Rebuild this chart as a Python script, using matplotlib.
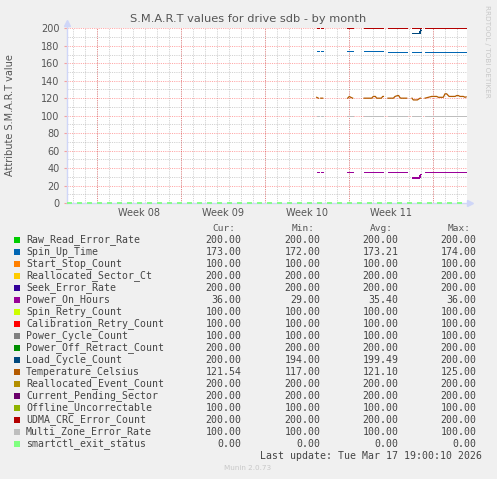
import numpy as np
import matplotlib.pyplot as plt
from matplotlib.patches import Rectangle

plt.rcParams['lines.scale_dashes'] = False

# ---- data (time in days from left edge of graph) ----
seg_start = [20.83, 21.17, 23.36, 24.78, 26.78, 28.78, 29.86]
seg_end = [21.03, 21.33, 23.83, 26.36, 28.33, 29.50, 33.28]

names = ['Raw_Read_Error_Rate', 'Spin_Up_Time', 'Start_Stop_Count', 'Reallocated_Sector_Ct',
         'Seek_Error_Rate', 'Power_On_Hours', 'Spin_Retry_Count', 'Calibration_Retry_Count',
         'Power_Cycle_Count', 'Power_Off_Retract_Count', 'Load_Cycle_Count', 'Temperature_Celsius',
         'Reallocated_Event_Count', 'Current_Pending_Sector', 'Offline_Uncorrectable',
         'UDMA_CRC_Error_Count', 'Multi_Zone_Error_Rate', 'smartctl_exit_status']
colors = ['#00CC00', '#0066B3', '#FF8000', '#FFCC00', '#330099', '#990099', '#CCFF00', '#FF0000',
          '#808080', '#008F00', '#00487D', '#B35A00', '#B38F00', '#6B006B', '#8FB300', '#B30000',
          '#BEBEBE', '#80FF80']

# per-segment levels of the flat series
raw_read = [200] * 7
spin_up = [174, 174, 174, 174, 173, 173, 173]
start_stop = [100] * 7
realloc_sector = [200] * 7
seek_error = [200] * 7
power_on = [36, 36, 36, 36, 36, 29, 36]
power_on_end = [36, 36, 36, 36, 36, 33, 36]
spin_retry = [100] * 7
calibration = [100] * 7
power_cycle = [100] * 7
power_off_retract = [200] * 7
load_cycle = [200, 200, 200, 200, 200, 194, 200]
load_cycle_end = [200, 200, 200, 200, 200, 198, 200]
realloc_event = [200] * 7
pending = [200] * 7
offline = [100] * 7
udma = [200] * 7
multi_zone = [100] * 7
smartctl_days = [0, 33.33]
smartctl = [0, 0]

temp_days = [20.83, 20.97, np.nan, 21.17, 21.33, np.nan,
             23.41, 23.55, 23.67, 23.83, np.nan,
             24.78, 25.41, 25.55, 25.72, 25.83, 26.22, 26.33, 26.39, np.nan,
             26.77, 27.22, 27.36, 27.58, 27.66, 27.75, 27.83, 28.33, np.nan,
             28.77, 28.88, 29.22, 29.33, 29.44, 29.50, np.nan,
             29.86, 30.13, 30.41, 30.83, 30.97, 31.38, 31.52, 31.66, 31.86, 32.36, 32.50,
             32.63, 32.77, 33.05, 33.19, 33.28]
temp_vals = [121, 120, np.nan, 120, 120, np.nan,
             120, 122, 121, 120, np.nan,
             120, 120, 122, 122, 120, 120, 122, 122, np.nan,
             120, 120, 122, 123, 123, 121, 120, 120, np.nan,
             120, 118, 118, 119, 120, 120, np.nan,
             120, 121, 122, 122, 121, 121, 125, 125, 122, 122, 123,
             123, 122, 122, 121, 121.5]

cur = ['200.00', '173.00', '100.00', '200.00', '200.00', '36.00', '100.00', '100.00', '100.00',
       '200.00', '200.00', '121.54', '200.00', '200.00', '100.00', '200.00', '100.00', '0.00']
mins = ['200.00', '172.00', '100.00', '200.00', '200.00', '29.00', '100.00', '100.00', '100.00',
        '200.00', '194.00', '117.00', '200.00', '200.00', '100.00', '200.00', '100.00', '0.00']
avgs = ['200.00', '173.21', '100.00', '200.00', '200.00', '35.40', '100.00', '100.00', '100.00',
        '200.00', '199.49', '121.10', '200.00', '200.00', '100.00', '200.00', '100.00', '0.00']
maxs = ['200.00', '174.00', '100.00', '200.00', '200.00', '36.00', '100.00', '100.00', '100.00',
        '200.00', '200.00', '125.00', '200.00', '200.00', '100.00', '200.00', '100.00', '0.00']

week_pos = [6, 13, 20, 27]
week_labels = ['Week 08', 'Week 09', 'Week 10', 'Week 11']

W, H = 497, 479
fig = plt.figure(figsize=(W / 100, H / 100), dpi=100, facecolor='#F0F0F0')
ax = fig.add_axes([66.7 / W, 1 - 203 / H, 400 / W, 174.7 / H], facecolor='white')
ax.set_xlim(0, 33.33)
ax.set_ylim(0, 200)

# grid, rrdtool style
for d in np.arange(0.5, 33.3, 1.0):
    ax.axvline(d, color='#8C8C8C', alpha=0.4, lw=0.7, dashes=(0.8, 0.8), zorder=1)
for v in range(10, 201, 20):
    ax.axhline(v, color='#8C8C8C', alpha=0.4, lw=0.7, dashes=(0.8, 0.8), zorder=1)
for d in [2.5, 9.5, 16.5, 23.5, 30.5]:
    ax.axvline(d, color='#FF0000', alpha=0.35, lw=0.7, dashes=(0.8, 0.8), zorder=1)
for v in range(20, 201, 20):
    ax.axhline(v, color='#FF0000', alpha=0.35, lw=0.7, dashes=(0.8, 0.8), zorder=1)

flat = [raw_read, spin_up, start_stop, realloc_sector, seek_error, power_on, spin_retry,
        calibration, power_cycle, power_off_retract, load_cycle, None, realloc_event,
        pending, offline, udma, multi_zone]
flat_end = {5: power_on_end, 10: load_cycle_end}
for i, vals in enumerate(flat):
    if vals is None:
        ax.plot(temp_days, temp_vals, color=colors[i], lw=0.9, zorder=3)
        continue
    ends = flat_end.get(i, vals)
    for s, e, v, ve in zip(seg_start, seg_end, vals, ends):
        ax.plot([s, e - 1 / 12, e], [v, v, ve], color=colors[i], lw=0.6, zorder=3,
                solid_capstyle='butt', antialiased=False)

ax.plot(smartctl_days, smartctl, color=colors[17], lw=1.3, dashes=(3.6, 3.6), zorder=5,
        clip_on=False)

for sp in ['top', 'right']:
    ax.spines[sp].set_visible(False)
for sp in ['left', 'bottom']:
    ax.spines[sp].set_color('#CFD6F8')
    ax.spines[sp].set_linewidth(1.0)
ax.spines['left'].set_bounds(0, 206)
ax.plot([0], [206], marker='^', ms=4, color='#CFD6F8', clip_on=False, zorder=6)
ax.plot([33.6], [0], marker='>', ms=4, color='#CFD6F8', clip_on=False, zorder=6)

ax.set_yticks(range(0, 201, 20))
ax.tick_params(axis='y', length=2, color='#F4A0A0', labelsize=7, labelcolor='#555555', pad=3)
ax.set_xticks(week_pos, week_labels)
ax.tick_params(axis='x', length=0, labelsize=7, labelcolor='#555555', pad=3.5)

fig.text(248 / W, 1 - 19 / H, 'S.M.A.R.T values for drive sdb - by month', ha='center',
         va='center', fontsize=8.2, color='#555555')
fig.text(10 / W, 1 - 115.5 / H, 'Attribute S.M.A.R.T value', rotation=90, ha='center',
         va='center', fontsize=7, color='#555555')
fig.text(487 / W, 1 - 5 / H, 'RRDTOOL / TOBI OETIKER', rotation=-90, ha='center', va='top',
         fontsize=5.2, color='#C8C8C8')

# legend
mono = 'DejaVu Sans Mono'
hdr_y = 228.5
for lbl, xr in zip(['Cur:', 'Min:', 'Avg:', 'Max:'], [235.5, 314.5, 392.5, 470.5]):
    fig.text(xr / W, 1 - hdr_y / H, lbl, ha='right', va='center', fontsize=6.8,
             color='#555555', family=mono)
for i, name in enumerate(names):
    y = 240 + i * 11.98
    fig.add_artist(Rectangle((14 / W, 1 - (y + 3) / H), 6 / W, 6 / H, transform=fig.transFigure,
                             facecolor=colors[i], edgecolor='none'))
    fig.text(26 / W, 1 - y / H, name, ha='left', va='center', fontsize=7.1,
             color='#444444', family=mono)
    for col, xr in zip([cur, mins, avgs, maxs], [241.7, 320.7, 398.7, 476.7]):
        fig.text(xr / W, 1 - y / H, col[i], ha='right', va='center', fontsize=7.1,
                 color='#444444', family=mono)

fig.text(482 / W, 1 - 455.7 / H, 'Last update: Tue Mar 17 19:00:10 2026', ha='right',
         va='center', fontsize=7.1, color='#444444', family=mono)
fig.text(248 / W, 1 - 468 / H, 'Munin 2.0.73', ha='center', va='center', fontsize=5.2,
         color='#C8C8C8')

fig.savefig('out.png', dpi=100, facecolor=fig.get_facecolor())
